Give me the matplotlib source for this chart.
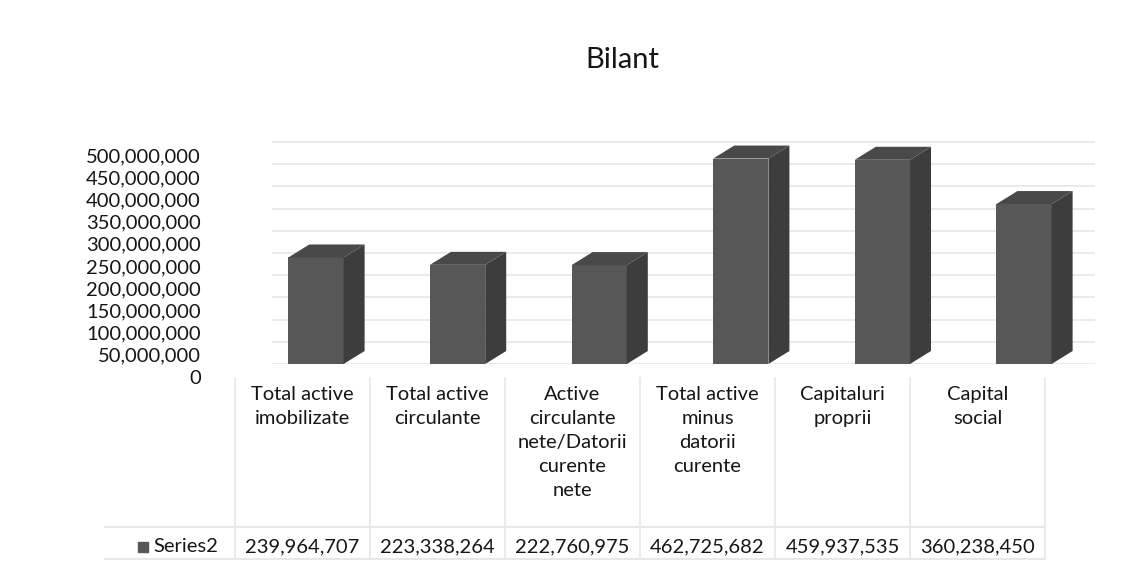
import matplotlib.pyplot as plt
from matplotlib.patches import Polygon
from matplotlib.transforms import ScaledTranslation

categories = [
    "Total active\nimobilizate",
    "Total active\ncirculante",
    "Active\ncirculante\nnete/Datorii\ncurente\nnete",
    "Total active\nminus\ndatorii\ncurente",
    "Capitaluri\nproprii",
    "Capital\nsocial",
]
values = [239964707, 223338264, 222760975, 462725682, 459937535, 360238450]
series_name = "Series2"
y_ticks = list(range(0, 500000001, 50000000))

plt.rcParams['font.family'] = ['Lato', 'DejaVu Sans']

W, H = 1143, 563
fig = plt.figure(figsize=(W / 100, H / 100), dpi=100)
fig.patch.set_facecolor('white')

front_c = '#575757'
side_c = '#3d3d3d'
top_c = '#494949'
grid_c = '#e6e6e6'
text_c = '#161616'
fs = 14.5

# main plot area (pixel layout -> figure fractions)
x0_px, x_unit_px = 316, 141.6
ax_left, ax_right = 230, 1100
y0_px, y_top_px = 364, 128
px_per_val = 222 / 500000000
ax = fig.add_axes([ax_left / W, (H - y0_px) / H,
                   (ax_right - ax_left) / W, (y0_px - y_top_px) / H])
ax.set_xlim((ax_left - x0_px) / x_unit_px, (ax_right - x0_px) / x_unit_px)
ax.set_ylim(0, (y0_px - y_top_px) / px_per_val)
for s in ax.spines.values():
    s.set_visible(False)
ax.set_xticks([])

# back-wall gridlines
ax.hlines(y_ticks, (272 - x0_px) / x_unit_px, (1095 - x0_px) / x_unit_px,
          colors=grid_c, linewidth=1.2, zorder=0)

# y tick labels sit at the front edge, a bit lower than the wall
ax.set_yticks(y_ticks)
ax.set_yticklabels([f"{t:,}" for t in y_ticks], fontsize=fs, color=text_c)
ax.tick_params(axis='y', length=0, pad=21)
shift = ScaledTranslation(0, -13 / 100, fig.dpi_scale_trans)
for lbl in ax.get_yticklabels():
    lbl.set_transform(lbl.get_transform() + shift)

# pseudo-3D columns
bw = 0.39
dx = 21 / x_unit_px
dy = 13 / px_per_val
for i, v in enumerate(values):
    l, r = i - bw / 2, i + bw / 2
    ax.bar(i, v, width=bw, color=front_c, edgecolor='none', zorder=3)
    ax.add_patch(Polygon([(r, 0), (r + dx, dy), (r + dx, v + dy), (r, v)],
                         closed=True, facecolor=side_c, edgecolor='none', zorder=3))
    ax.add_patch(Polygon([(l, v), (r, v), (r + dx, v + dy), (l + dx, v + dy)],
                         closed=True, facecolor=top_c, edgecolor='none', zorder=3))

# title
fig.text(622 / W, 1 - 60 / H, "Bilant", ha='center', va='center',
         fontsize=21, color=text_c)

# data table
t_left, t_right, t_top = 235, 1045, 378
col_w = (t_right - t_left) / len(categories)
tab = fig.add_axes([t_left / W, 0, (t_right - t_left) / W, (H - t_top) / H])
tab.set_xlim(0, len(categories))
tab.set_ylim(H - t_top, 0)
tab.axis('off')
line_c = '#e8e8e8'
for k in range(len(categories) + 1):
    tab.plot([k, k], [0, H - t_top - 4], color=line_c, linewidth=1.2, clip_on=False)
tab.plot([(105 - t_left) / col_w, len(categories)], [149, 149],
         color=line_c, linewidth=1.5, clip_on=False)
tab.plot([(105 - t_left) / col_w, len(categories)], [181, 181],
         color=line_c, linewidth=1.5, clip_on=False)
for i, (cat, v) in enumerate(zip(categories, values)):
    tab.text(i + 0.5, 8, cat, ha='center', va='top', fontsize=fs,
             color=text_c, linespacing=1.5)
    tab.text(i + 0.5, 169, f"{v:,}", ha='center', va='center',
             fontsize=fs, color=text_c)
tab.text((153 - t_left) / col_w, 169, series_name, ha='left', va='center',
         fontsize=fs, color=text_c, clip_on=False)
tab.scatter([(143 - t_left) / col_w], [169], marker='s', s=50,
            color=front_c, clip_on=False)

fig.savefig('out.png', dpi=100, facecolor='white')
